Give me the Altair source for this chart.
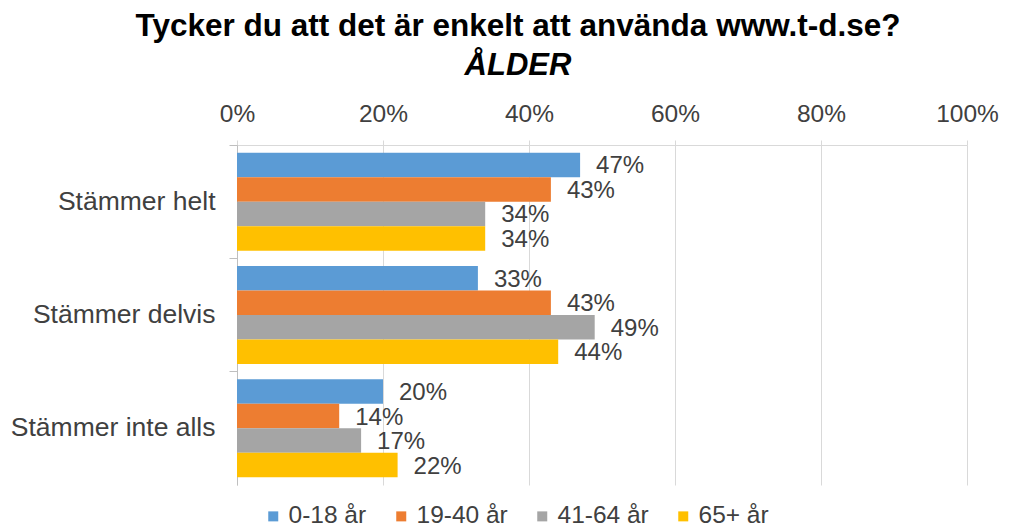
import altair as alt
import pandas as pd

categories = ["Stämmer helt", "Stämmer delvis", "Stämmer inte alls"]
groups = ["0-18 år", "19-40 år", "41-64 år", "65+ år"]
v_0_18 = [47, 33, 20]
v_19_40 = [43, 43, 14]
v_41_64 = [34, 49, 17]
v_65 = [34, 44, 22]
colors = ["#5B9BD5", "#ED7D31", "#A5A5A5", "#FFC000"]
x_ticks = [0, 20, 40, 60, 80, 100]

series = [v_0_18, v_19_40, v_41_64, v_65]
rows = []
for g, vals in zip(groups, series):
    for c, v in zip(categories, vals):
        rows.append({"kategori": c, "grupp": g, "andel": v, "etikett": f"{v}%"})
df = pd.DataFrame(rows)

FONT = "Liberation Sans"
W, H = 730, 340

y_enc = alt.Y(
    "kategori:N",
    sort=categories,
    scale=alt.Scale(paddingInner=0, paddingOuter=0),
    axis=alt.Axis(
        title=None,
        bandPosition=0,
        tickSize=8,
        tickColor="#BFBFBF",
        domainColor="#BFBFBF",
        labelPadding=14,
        labelFontSize=26.5,
        labelFont=FONT,
        labelColor="#404040",
        labelLimit=300,
    ),
)
yoff_enc = alt.YOffset("grupp:N", sort=groups, scale=alt.Scale(paddingInner=0, paddingOuter=0.313))

x_enc = alt.X(
    "andel:Q",
    scale=alt.Scale(domain=[0, 100]),
    axis=alt.Axis(
        orient="top",
        values=x_ticks,
        labelExpr="datum.value + '%'",
        labelFlush=False,
        labelOverlap=False,
        title=None,
        grid=True,
        gridColor="#D9D9D9",
        domainColor="#D9D9D9",
        tickColor="#D9D9D9",
        tickSize=5,
        labelPadding=14,
        labelFontSize=24.5,
        labelFont=FONT,
        labelColor="#404040",
    ),
)

bars = alt.Chart(df).mark_bar().encode(
    x=x_enc,
    y=y_enc,
    yOffset=yoff_enc,
    color=alt.Color(
        "grupp:N",
        sort=groups,
        scale=alt.Scale(domain=groups, range=colors),
        legend=alt.Legend(
            title=None,
            orient="none",
            legendX=24,
            legendY=359,
            direction="horizontal",
            columns=4,
            gridAlign="each",
            columnPadding=22,
            symbolType="square",
            symbolSize=100,
            symbolStrokeWidth=0,
            labelFontSize=24.5,
            labelFont=FONT,
            labelColor="#404040",
            labelOffset=3,
        ),
    ),
)

labels = alt.Chart(df).mark_text(
    align="left", baseline="middle", dx=16, dy=1.5, fontSize=24, font=FONT, color="#404040"
).encode(
    x=alt.X("andel:Q"),
    y=alt.Y("kategori:N", sort=categories),
    yOffset=alt.YOffset("grupp:N", sort=groups),
    text="etikett:N",
)

chart = (
    alt.layer(bars, labels)
    .properties(
        width=W,
        height=H,
        autosize=alt.AutoSizeParams(type="none"),
        padding={"left": 229, "top": 137, "right": 34, "bottom": 46},
        title=alt.TitleParams(
            text="Tycker du att det är enkelt att använda www.t-d.se?",
            subtitle="ÅLDER",
            anchor="middle",
            frame="group",
            dx=-84,
            offset=20,
            font=FONT,
            fontSize=31.5,
            fontWeight="bold",
            color="#000000",
            subtitleFont=FONT,
            subtitleFontSize=31,
            subtitleFontWeight="bold",
            subtitleFontStyle="italic",
            subtitleColor="#000000",
            subtitlePadding=9,
        ),
    )
    .configure_view(stroke=None)
)

chart.save("out.html", embed_options={"renderer": "svg", "actions": False})
